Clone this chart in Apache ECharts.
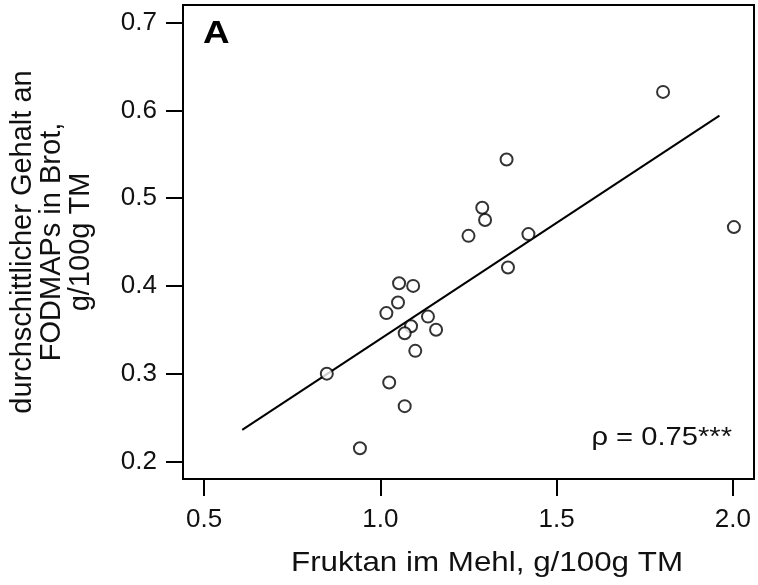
<!DOCTYPE html>
<html>
<head>
<meta charset="utf-8">
<script src="https://cdn.jsdelivr.net/npm/echarts@6/dist/echarts.min.js"></script>
<style>
html,body{margin:0;padding:0;background:#fff;}
#chart{width:758px;height:585px;}
</style>
</head>
<body>
<div id="chart"></div>
<script>
// Fruktan im Mehl (x) vs. FODMAPs im Brot (y)
var fruktan = [0.848, 0.942, 1.025, 1.069, 1.053, 1.093, 1.050, 1.017, 1.135, 1.087, 1.069,
               1.158, 1.099, 1.250, 1.802, 1.358, 1.289, 1.297, 1.420, 2.003, 1.362];
var fodmap  = [0.300, 0.215, 0.290, 0.263, 0.403, 0.400, 0.381, 0.369, 0.365, 0.354, 0.346,
               0.350, 0.326, 0.457, 0.621, 0.544, 0.489, 0.475, 0.459, 0.467, 0.421];
// Regressionsgerade (Endpunkte)
var lineX = [0.608, 1.962];
var lineY = [0.236, 0.594];
var xTicks = [0.5, 1.0, 1.5, 2.0];
var yTicks = [0.2, 0.3, 0.4, 0.5, 0.6, 0.7];

var punkte = [];
for (var i = 0; i < fruktan.length; i++) {
	punkte.push([fruktan[i], fodmap[i]]);
}
var gerade = [];
for (var j = 0; j < lineX.length; j++) {
	gerade.push([lineX[j], lineY[j]]);
}

var font = '"Liberation Sans", Arial, sans-serif';
var myChart = echarts.init(document.getElementById('chart'));
var option = {
	animation: false,
	backgroundColor: '#fff',
	grid: {
		left: 183, right: 4, top: 5, bottom: 106,
		show: true, borderColor: '#000', borderWidth: 2
	},
	xAxis: {
		type: 'value',
		min: 0.44, max: 2.06,
		axisLine: { show: true, onZero: false, lineStyle: { color: '#000', width: 2 } },
		axisTick: { show: true, inside: false, length: 17, customValues: xTicks, lineStyle: { color: '#000', width: 2 } },
		axisLabel: {
			customValues: xTicks, margin: 28,
			color: '#111', fontSize: 26, fontFamily: font,
			formatter: function(v){ return v.toFixed(1); }
		},
		splitLine: { show: false }
	},
	yAxis: {
		type: 'value',
		min: 0.18, max: 0.72,
		axisLine: { show: true, onZero: false, lineStyle: { color: '#000', width: 2 } },
		axisTick: { show: true, inside: false, length: 17, customValues: yTicks, lineStyle: { color: '#000', width: 2 } },
		axisLabel: {
			customValues: yTicks, margin: 26,
			color: '#111', fontSize: 26, fontFamily: font,
			formatter: function(v){ return v.toFixed(1); }
		},
		splitLine: { show: false }
	},
	series: [{
		type: 'line',
		data: gerade,
		symbol: 'none',
		lineStyle: { color: '#000', width: 2 },
		z: 2
	}, {
		type: 'scatter',
		data: punkte,
		symbol: 'circle',
		symbolSize: 12,
		itemStyle: { color: '#fff', borderColor: '#000', borderWidth: 2 },
		z: 3
	}],
	graphic: [{
		type: 'text',
		x: 203, y: 34, scaleX: 1.15,
		style: { text: 'A', font: 'bold 32px ' + font, fill: '#000', align: 'left', verticalAlign: 'middle' }
	}, {
		type: 'text',
		x: 732, y: 438, scaleX: 1.1,
		style: { text: 'ρ = 0.75***', font: '26.5px ' + font, fill: '#111', align: 'right', verticalAlign: 'middle' }
	}, {
		type: 'text',
		x: 487, y: 563, scaleX: 1.1,
		style: { text: 'Fruktan im Mehl, g/100g TM', font: '28.5px ' + font, fill: '#111', align: 'center', verticalAlign: 'middle' }
	}, {
		type: 'text',
		x: 52, y: 242,
		rotation: Math.PI / 2,
		style: {
			text: 'durchschittlicher Gehalt an\nFODMAPs in Brot,\ng/100g TM',
			font: '29px ' + font, lineHeight: 29, fill: '#111', align: 'center', verticalAlign: 'middle'
		}
	}]
};
myChart.setOption(option);
</script>
</body>
</html>
